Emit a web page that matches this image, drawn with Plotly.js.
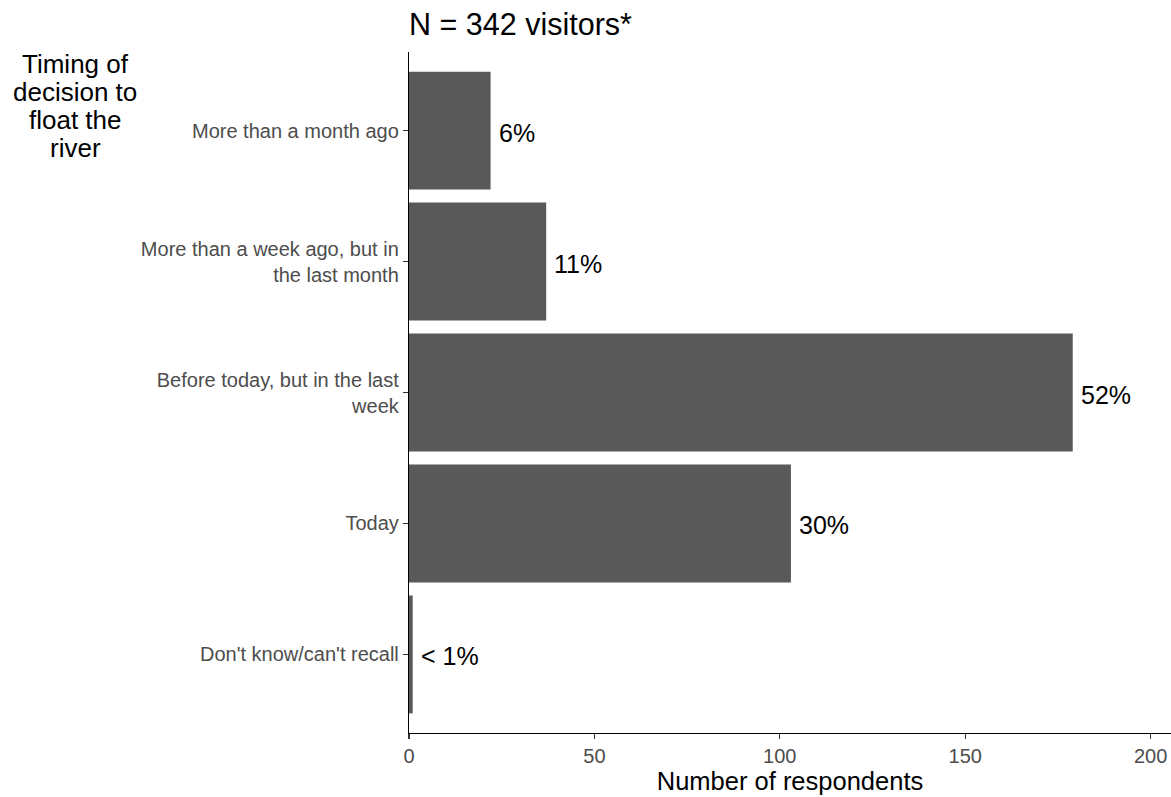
<!DOCTYPE html>
<html>
<head>
<meta charset="utf-8">
<script src="https://cdn.plot.ly/plotly-3.0.1.min.js"></script>
<style>html,body{margin:0;padding:0;background:#fff;}#chart{width:1171px;height:797px;}</style>
</head>
<body>
<div id="chart"></div>
<script>
// Categories listed top to bottom
const categories = [
  "More than a month ago",
  "More than a week ago, but in<br>the last month",
  "Before today, but in the last<br>week",
  "Today",
  "Don't know/can't recall"
];
const respondents = [22, 37, 179, 103, 1];
const percentLabels = ["6%", "11%", "52%", "30%", "< 1%"];
const xTickValues = [0, 50, 100, 150, 200];
const chartTitle = "N = 342 visitors*";
const xTitle = "Number of respondents";
const yTitleLines = ["Timing of", "decision to", "float the", "river"];

const FONT = "Arial, 'Liberation Sans', sans-serif";
const PLOT_TOP = 52, PLOT_H = 681;
const pxToPaperY = px => 1 - (px - PLOT_TOP) / PLOT_H;

const barTrace = {
  type: "bar",
  orientation: "h",
  x: respondents,
  y: categories,
  width: 0.9,
  marker: {color: "#595959", line: {width: 0}},
  hoverinfo: "x+y"
};

const labelAnnotations = respondents.map((v, i) => ({
  x: v, y: categories[i], xref: "x", yref: "y",
  text: percentLabels[i], showarrow: false,
  xanchor: "left", yanchor: "middle", xshift: 6, yshift: -2,
  font: {family: FONT, size: 25, color: "#000000"}
}));

const yTitleAnnotations = yTitleLines.map((line, i) => ({
  xref: "paper", yref: "paper", x: -0.4383, y: pxToPaperY(64 + 28 * i),
  xanchor: "center", yanchor: "middle", align: "center",
  text: line, showarrow: false,
  font: {family: FONT, size: 26, color: "#000000"}
}));

const layout = {
  width: 1171, height: 797,
  margin: {l: 409, r: 0, t: 52, b: 64, pad: 0},
  paper_bgcolor: "#ffffff", plot_bgcolor: "#ffffff",
  showlegend: false,
  font: {family: FONT},
  title: {
    text: chartTitle, xref: "paper", x: 0, xanchor: "left",
    yref: "container", y: 0.97, yanchor: "middle",
    font: {family: FONT, size: 30.5, color: "#000000"}
  },
  xaxis: {
    range: [0, 205.5], tickvals: xTickValues, ticktext: xTickValues.map(String),
    showgrid: false, zeroline: false, showline: true, linecolor: "#000000", linewidth: 1.2,
    ticks: "outside", ticklen: 5, tickwidth: 1.1, tickcolor: "#333333",
    tickfont: {family: FONT, size: 20, color: "#4d4d4d"},
    title: {text: xTitle, font: {family: FONT, size: 25.5, color: "#000000"}, standoff: 6},
    fixedrange: true
  },
  yaxis: {
    type: "category", categoryorder: "array", categoryarray: categories,
    range: [4.6, -0.6],
    showgrid: false, zeroline: false, showline: true, linecolor: "#000000", linewidth: 1.2,
    ticks: "outside", ticklen: 5, tickwidth: 1.1, tickcolor: "#333333",
    tickfont: {family: FONT, size: 20, color: "#4d4d4d"},
    fixedrange: true
  },
  annotations: labelAnnotations.concat(yTitleAnnotations)
};

Plotly.newPlot("chart", [barTrace], layout, {displayModeBar: false, staticPlot: true});
</script>
</body>
</html>
